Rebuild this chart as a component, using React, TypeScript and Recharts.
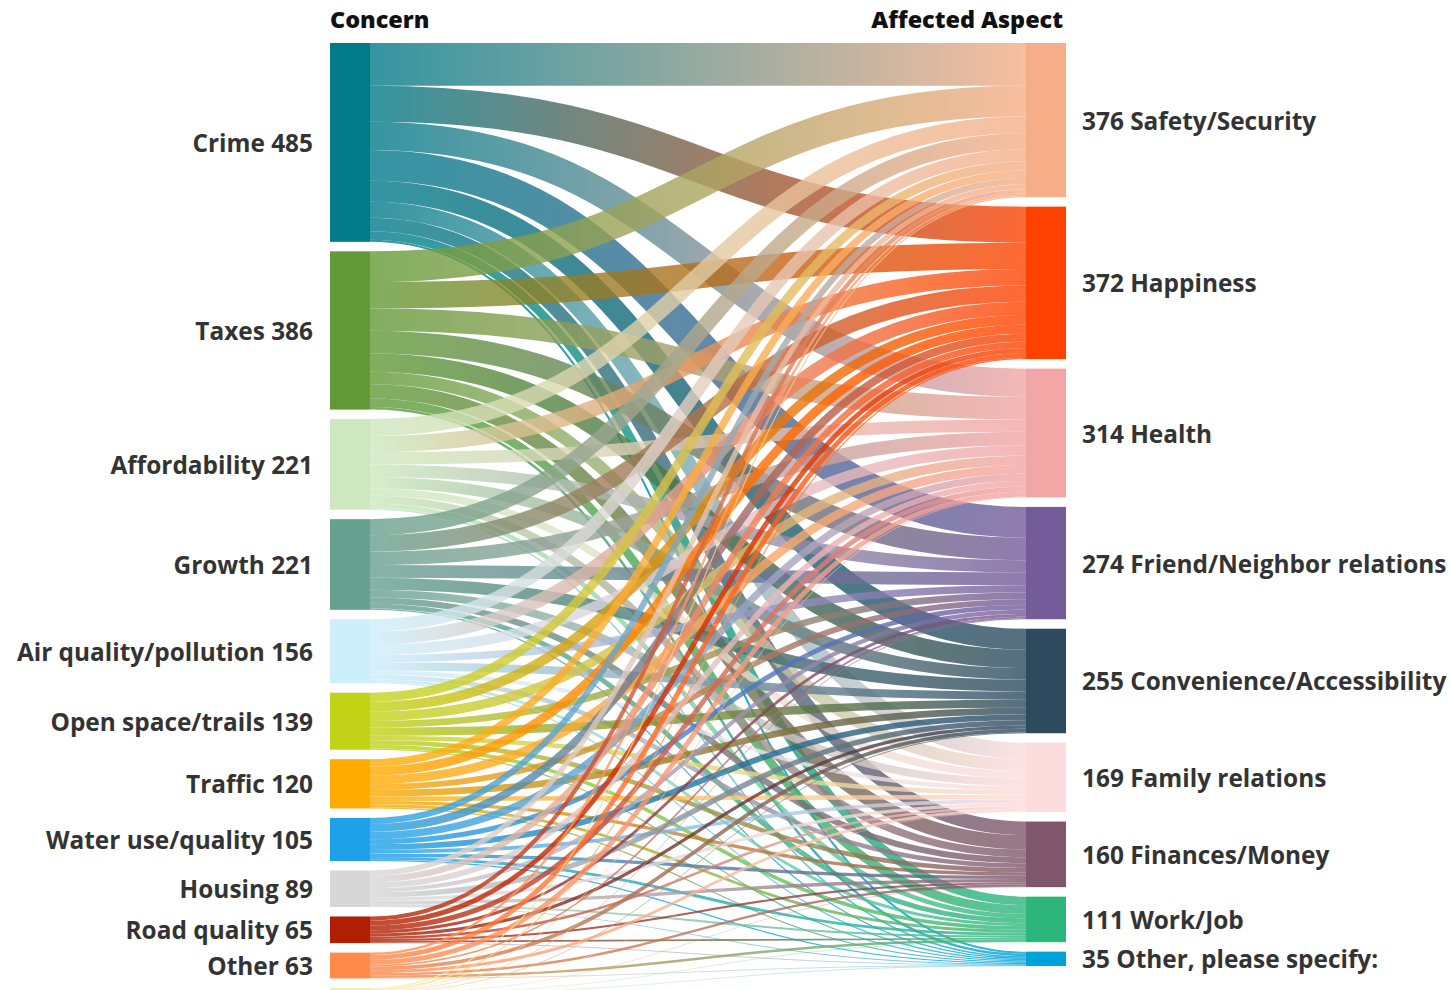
import { Sankey } from 'recharts';

// left column (the last one is cut off at the bottom edge, no label shown)
const concerns = [
  'Crime',
  'Taxes',
  'Affordability',
  'Growth',
  'Air quality/pollution',
  'Open space/trails',
  'Traffic',
  'Water use/quality',
  'Housing',
  'Road quality',
  'Other',
  '',
];

// right column
const aspects = [
  'Safety/Security',
  'Happiness',
  'Health',
  'Friend/Neighbor relations',
  'Convenience/Accessibility',
  'Family relations',
  'Finances/Money',
  'Work/Job',
  'Other, please specify:',
];

// responses from each concern, in the order of `aspects`
const crime = [104, 88, 69, 75, 51, 39, 33, 21, 5];
const taxes = [75, 64, 55, 55, 45, 30, 35, 21, 6];
const affordability = [41, 40, 30, 30, 28, 18, 19, 11, 4];
const growth = [39, 40, 33, 31, 29, 19, 15, 12, 3];
const airQuality = [30, 32, 25, 18, 20, 10, 11, 7, 3];
const openSpace = [22, 24, 23, 16, 20, 11, 11, 9, 3];
const traffic = [18, 22, 21, 14, 16, 11, 8, 7, 3];
const water = [15, 19, 18, 12, 14, 9, 8, 7, 3];
const housing = [13, 16, 14, 10, 13, 8, 8, 5, 2];
const roadQuality = [10, 12, 12, 7, 8, 6, 5, 4, 1];
const otherConcern = [6, 12, 12, 4, 9, 7, 6, 6, 1];
const cutOff = [3, 3, 2, 2, 2, 1, 1, 1, 1];

const flows = [
  crime,
  taxes,
  affordability,
  growth,
  airQuality,
  openSpace,
  traffic,
  water,
  housing,
  roadQuality,
  otherConcern,
  cutOff,
];

const concernColors = [
  '#017b8a',
  '#629a37',
  '#cde8be',
  '#66a08f',
  '#cdeefb',
  '#c2d317',
  '#ffab00',
  '#1da1e9',
  '#d7d7d7',
  '#b21e00',
  '#ff8a4a',
  '#f7efa0',
];

const aspectColors = [
  '#f6ae88',
  '#ff4200',
  '#f3a6a6',
  '#745b9a',
  '#2d4a5e',
  '#fcdcdc',
  '#80566a',
  '#2db67c',
  '#00a3d9',
];

const nodes = [
  ...concerns.map((name) => ({ name })),
  ...aspects.map((name) => ({ name })),
];

const links = flows.flatMap((row, i) =>
  row.map((value, j) => ({ source: i, target: concerns.length + j, value }))
);

const FONT = '"Open Sans", Lato, sans-serif';

const nodeColor = (index: number) =>
  index < concerns.length
    ? concernColors[index]
    : aspectColors[index - concerns.length];

const SankeyNode = (props: any) => {
  const { x, y, width, height, index, payload } = props;
  const isLeft = index < concerns.length;
  const label = isLeft
    ? `${payload.name} ${payload.value}`
    : `${payload.value} ${payload.name}`;

  return (
    <g>
      <rect x={x} y={y} width={width} height={height} fill={nodeColor(index)} />
      {payload.name && (
        <text
          x={isLeft ? x - 17 : x + width + 16}
          y={y + height / 2}
          textAnchor={isLeft ? 'end' : 'start'}
          dominantBaseline="central"
          fontFamily={FONT}
          fontWeight={700}
          fontSize={24.4}
          fill="#333"
        >
          {label}
        </text>
      )}
      {index === 0 && (
        <text x={x} y={y - 15} fontFamily={FONT} fontWeight={800} fontSize={23.4} fill="#111">
          Concern
        </text>
      )}
      {index === concerns.length && (
        <text
          x={x + width - 3}
          y={y - 15}
          textAnchor="end"
          fontFamily={FONT}
          fontWeight={800}
          fontSize={23.4}
          fill="#111"
        >
          Affected Aspect
        </text>
      )}
    </g>
  );
};

const SankeyLink = (props: any) => {
  const {
    sourceX,
    targetX,
    sourceY,
    targetY,
    sourceControlX,
    targetControlX,
    linkWidth,
    index,
  } = props;
  const link = links[index];
  const id = `flow-${index}`;

  return (
    <g>
      <defs>
        <linearGradient id={id} gradientUnits="userSpaceOnUse" x1={sourceX} y1={0} x2={targetX} y2={0}>
          <stop offset="0%" stopColor={nodeColor(link.source)} />
          <stop offset="100%" stopColor={nodeColor(link.target)} />
        </linearGradient>
      </defs>
      <path
        d={`M${sourceX},${sourceY}C${sourceControlX},${sourceY} ${targetControlX},${targetY} ${targetX},${targetY}`}
        fill="none"
        stroke={`url(#${id})`}
        strokeWidth={linkWidth}
        strokeOpacity={0.8}
      />
    </g>
  );
};

export default function App() {
  return (
    <div style={{ position: 'absolute', left: 0, top: 0, width: 1450, height: 990, background: '#fff' }}>
      <Sankey
        width={1450}
        height={990}
        data={{ nodes, links }}
        node={<SankeyNode />}
        link={<SankeyLink />}
        nodeWidth={40}
        nodePadding={9.5}
        iterations={0}
        sort={false}
        margin={{ left: 330, right: 384, top: 43, bottom: -4.5 }}
      />
    </div>
  );
}
